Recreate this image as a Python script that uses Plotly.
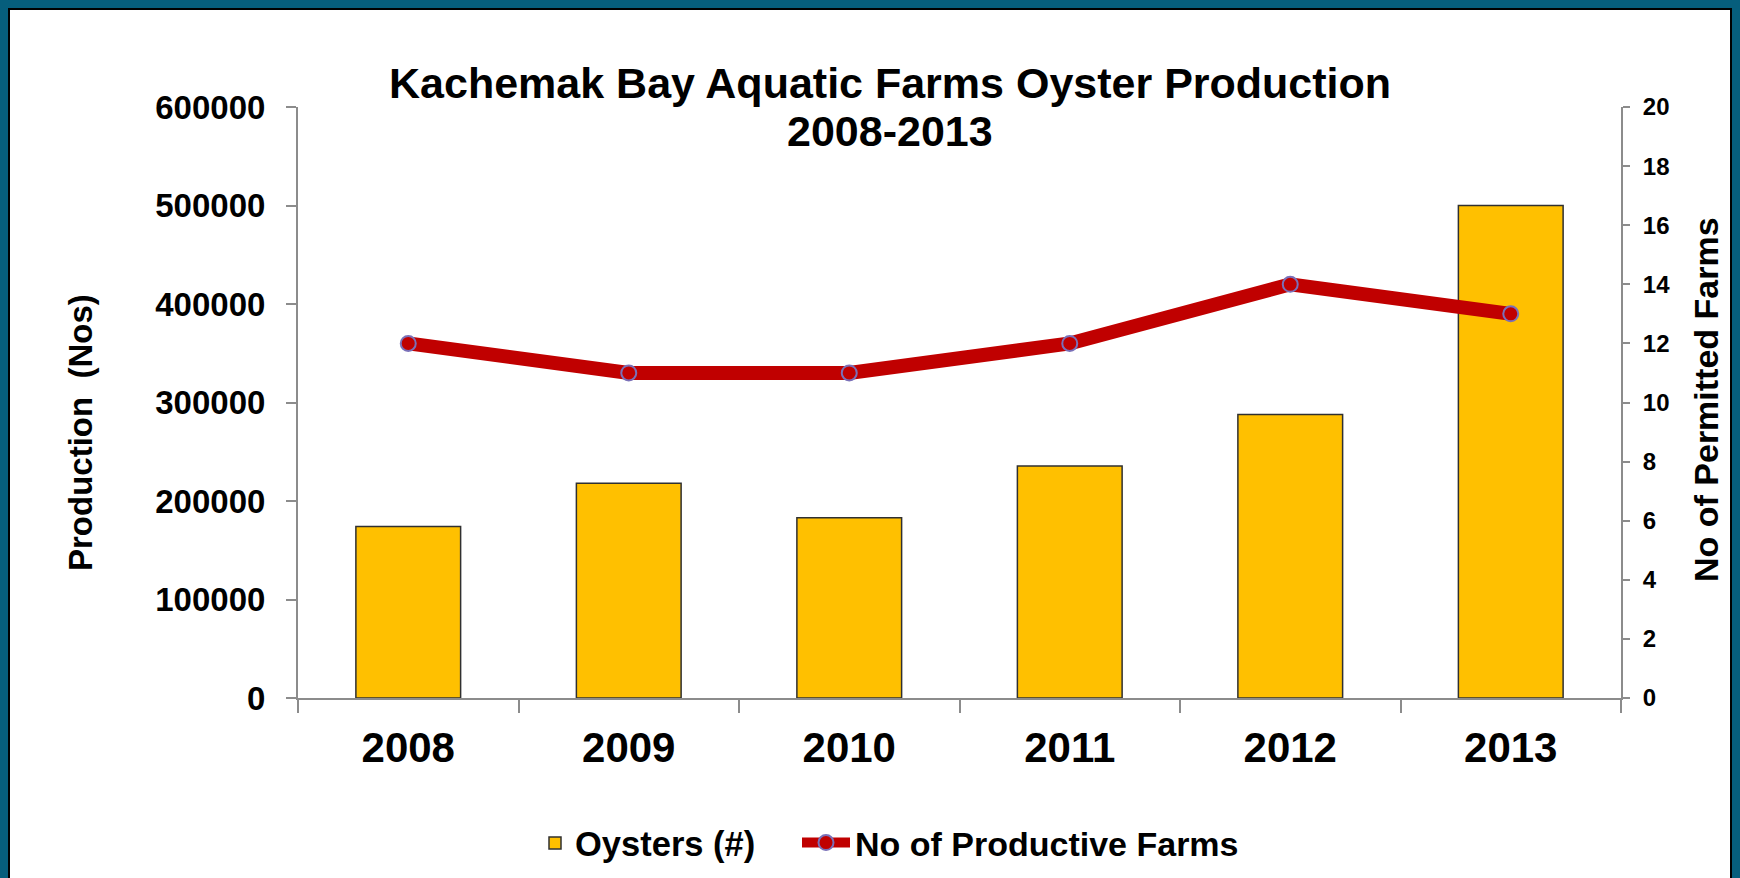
import plotly.graph_objects as go

years = ["2008", "2009", "2010", "2011", "2012", "2013"]
oysters = [174000, 218000, 183000, 235500, 287700, 500000]
farms = [12, 11, 11, 12, 14, 13]
left_ticks = [0, 100000, 200000, 300000, 400000, 500000, 600000]
right_ticks = [0, 2, 4, 6, 8, 10, 12, 14, 16, 18, 20]

W, H = 1740, 878
L, R, T, B = 298, 1621, 107, 698


def px_x(p):
    return (p - L) / (R - L)


def px_y(p):
    return (B - p) / (B - T)


FONT = "Arial, Liberation Sans, sans-serif"
GRAY = "#8C8C8C"
CLEAR = "rgba(0,0,0,0)"

fig = go.Figure()
fig.add_trace(go.Bar(
    x=years, y=oysters, name="Oysters (#)", legend="legend",
    marker=dict(color="#FFC000", line=dict(color="#303030", width=1.5)),
    width=0.475,
))
fig.add_trace(go.Scatter(
    x=years, y=farms, name="No of Productive Farms", yaxis="y2", legend="legend2",
    mode="lines+markers",
    line=dict(color="#C00000", width=14),
    marker=dict(symbol="circle", size=15, color="#C00000",
                line=dict(color="#7A70B8", width=2)),
))
# empty helper traces so the label-only overlay axes are drawn
fig.add_trace(go.Scatter(x=[], y=[], xaxis="x2", yaxis="y3", showlegend=False,
                         hoverinfo="skip", mode="markers"))
fig.add_trace(go.Scatter(x=[], y=[], xaxis="x", yaxis="y4", showlegend=False,
                         hoverinfo="skip", mode="markers"))

fig.update_layout(
    width=W, height=H,
    margin=dict(l=L, r=W - R, t=T, b=H - B, autoexpand=False),
    paper_bgcolor="#065E7C",
    plot_bgcolor="white",
    font=dict(family=FONT, color="black", weight="bold"),
    xaxis=dict(
        type="category", range=[-0.5, 5.5], tickson="boundaries",
        ticks="outside", ticklen=13, tickcolor=GRAY, tickwidth=1.5,
        showline=True, linecolor=GRAY, linewidth=1.5, showgrid=False,
        showticklabels=False, automargin=False,
    ),
    xaxis2=dict(
        overlaying="x", anchor="y", side="bottom",
        range=[-0.5, 5.5], tickvals=list(range(len(years))), ticktext=years,
        ticks="outside", ticklen=13, tickcolor=CLEAR, showline=False,
        showgrid=False, zeroline=False,
        tickfont=dict(size=42, family=FONT, weight="bold"), automargin=False,
    ),
    yaxis=dict(
        range=[0, 600000], tickvals=left_ticks,
        ticks="outside", ticklen=10, tickcolor=GRAY, tickwidth=1.5,
        showline=True, linecolor=GRAY, linewidth=1.5, showgrid=False, zeroline=False,
        showticklabels=False, automargin=False,
    ),
    yaxis3=dict(
        overlaying="y", anchor="x2", side="left",
        range=[0, 600000], tickvals=left_ticks, ticktext=[str(v) for v in left_ticks],
        ticks="outside", ticklen=25, tickcolor=CLEAR, showline=False,
        showgrid=False, zeroline=False,
        tickfont=dict(size=33, family=FONT, weight="bold"), automargin=False,
    ),
    yaxis2=dict(
        range=[0, 20], tickvals=right_ticks, overlaying="y", side="right", anchor="x",
        ticks="outside", ticklen=7, tickcolor=GRAY, tickwidth=1.5,
        showline=True, linecolor=GRAY, linewidth=1.5, showgrid=False, zeroline=False,
        showticklabels=False, automargin=False,
    ),
    yaxis4=dict(
        overlaying="y", anchor="x", side="right",
        range=[0, 20], tickvals=right_ticks,
        ticks="outside", ticklen=16, tickcolor=CLEAR, showline=False,
        showgrid=False, zeroline=False,
        tickfont=dict(size=24, family=FONT, weight="bold"), automargin=False,
    ),
    legend=dict(
        orientation="h", xref="container", yref="container",
        x=535 / W, xanchor="left", y=1 - 843 / H, yanchor="middle",
        font=dict(size=34.5, family=FONT, weight="bold"), bgcolor=CLEAR,
        itemwidth=30,
    ),
    legend2=dict(
        orientation="h", xref="container", yref="container",
        x=797 / W, xanchor="left", y=1 - 843 / H, yanchor="middle",
        font=dict(size=34, family=FONT, weight="bold"), bgcolor=CLEAR,
        itemwidth=48,
    ),
    showlegend=True,
)

fig.add_shape(type="rect", xref="paper", yref="paper",
              x0=px_x(9), x1=px_x(1731), y0=px_y(900), y1=px_y(9),
              fillcolor="white", line=dict(color="black", width=2), layer="below")

fig.add_annotation(text="Kachemak Bay Aquatic Farms Oyster Production",
                   xref="paper", yref="paper", x=px_x(890), y=px_y(83),
                   xanchor="center", yanchor="middle", showarrow=False,
                   font=dict(size=43, family=FONT, weight="bold"))
fig.add_annotation(text="2008-2013",
                   xref="paper", yref="paper", x=px_x(890), y=px_y(131),
                   xanchor="center", yanchor="middle", showarrow=False,
                   font=dict(size=43, family=FONT, weight="bold"))
fig.add_annotation(text="Production  (Nos)", textangle=-90,
                   xref="paper", yref="paper", x=px_x(80), y=px_y(433),
                   xanchor="center", yanchor="middle", showarrow=False,
                   font=dict(size=33, family=FONT, weight="bold"))
fig.add_annotation(text="No of Permitted Farms", textangle=-90,
                   xref="paper", yref="paper", x=px_x(1706), y=px_y(400),
                   xanchor="center", yanchor="middle", showarrow=False,
                   font=dict(size=34, family=FONT, weight="bold"))

fig.write_html("out.html", config={"displayModeBar": False},
               post_script="document.body.style.margin='0';")
